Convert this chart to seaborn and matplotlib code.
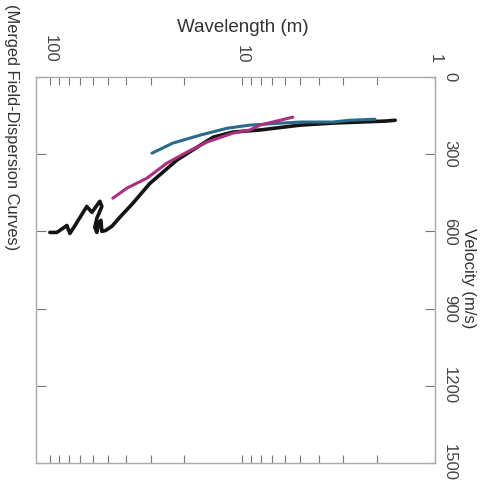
import numpy as np
import pandas as pd
import matplotlib
matplotlib.use("Agg")
import matplotlib.pyplot as plt
import matplotlib.ticker as mticker
import seaborn as sns

# Data (wavelength in m, velocity in m/s)
black_wl = [100, 92.0, 85.6, 81.6, 78.7, 75.0, 68.2, 64.3, 60.5, 57.0, 55.0, 53.7, 57.0, 58.4, 57.0,
            55.6, 54.3, 53.7, 51.2, 47.6, 43.3, 37.1, 30.2, 27.8, 21.9, 17.2, 14.2, 11.2, 8.11,
            6.16, 5.02, 3.39, 2.45, 1.78, 1.61]
black_v = [604, 604, 588, 577, 608, 584, 534, 503, 526, 499, 483, 503, 549, 584, 604,
           565, 557, 600, 596, 580, 545, 491, 413, 390, 323, 273, 234, 214, 206,
           195, 187, 179, 175, 171, 168]
blue_wl = [29.5, 23.0, 16.6, 12.0, 9.15, 6.16, 5.02, 3.39, 2.77, 2.05]
blue_v = [296, 257, 226, 199, 187, 179, 175, 175, 168, 164]
mag_wl = [47.1, 39.8, 31.3, 24.7, 19.4, 15.3, 11.2, 9.15, 8.11, 6.38, 5.47]
mag_v = [471, 432, 393, 335, 292, 253, 218, 206, 187, 168, 156]

vel_ticks = [0, 300, 600, 900, 1200, 1500]
wl_ticks = [100, 10, 1]
wl_labels = ["100", "10", "1"]

sns.set_style("white")
plt.rcParams['font.family'] = ['Liberation Sans', 'DejaVu Sans']

fig = plt.figure(figsize=(4.9, 4.87), dpi=100)
ax = fig.add_axes([36/490, 1-463/487, (435-36)/490, (463-77)/487])

series = [
    (black_wl, black_v, "#141414", 2.6),
    (blue_wl, blue_v, "#2a6a8c", 2.2),
    (mag_wl, mag_v, "#a8307f", 2.2),
]
for wl, v, c, lw in series:
    df = pd.DataFrame({"wl": wl, "v": v})
    sns.lineplot(data=df, x="wl", y="v", sort=False, estimator=None, color=c,
                 linewidth=lw, ax=ax, solid_capstyle="round", solid_joinstyle="round")

ax.set_xscale("log")
ax.set_xlim(118, 1)
ax.set_ylim(1500, 0)

ax.xaxis.set_major_locator(mticker.FixedLocator(wl_ticks))
ax.xaxis.set_major_formatter(mticker.FixedFormatter(wl_labels))
ax.xaxis.set_minor_locator(mticker.LogLocator(base=10, subs=np.arange(2, 10)))
ax.xaxis.set_minor_formatter(mticker.NullFormatter())
ax.yaxis.set_major_locator(mticker.FixedLocator(vel_ticks))

ax.xaxis.set_ticks_position("both")
ax.xaxis.set_label_position("top")
ax.tick_params(axis="x", which="both", direction="in", length=6, width=0.8, color="#777777",
               top=True, bottom=True, labeltop=True, labelbottom=False, pad=10,
               labelsize=12, labelcolor="#444444", labelrotation=-90)
ax.tick_params(axis="y", which="both", direction="in", length=7, width=0.8, color="#777777",
               left=True, right=True, labelleft=False, labelright=True, pad=5,
               labelsize=12, labelcolor="#444444", labelrotation=-90)
for lab in ax.get_yticklabels():
    lab.set_va("center")
    lab.set_ha("left")
for lab in ax.get_xticklabels():
    lab.set_ha("center")
    lab.set_va("bottom")

for s in ax.spines.values():
    s.set_visible(True)
    s.set_color("#aaaaaa")
    s.set_linewidth(1.0)

ax.set_xlabel("")
ax.set_ylabel("")

fig.text(243/490, 1-28/487, "Wavelength (m)", ha="center", va="center", fontsize=13.5, color="#333333")
fig.text(468/490, 1-278/487, "Velocity (m/s)", ha="center", va="center", fontsize=12,
         color="#333333", rotation=-90)
fig.text(11/490, 1-127/487, "(Merged Field-Dispersion Curves)", ha="center", va="center",
         fontsize=11.8, color="#333333", rotation=-90)

fig.savefig("out.png", dpi=100)
